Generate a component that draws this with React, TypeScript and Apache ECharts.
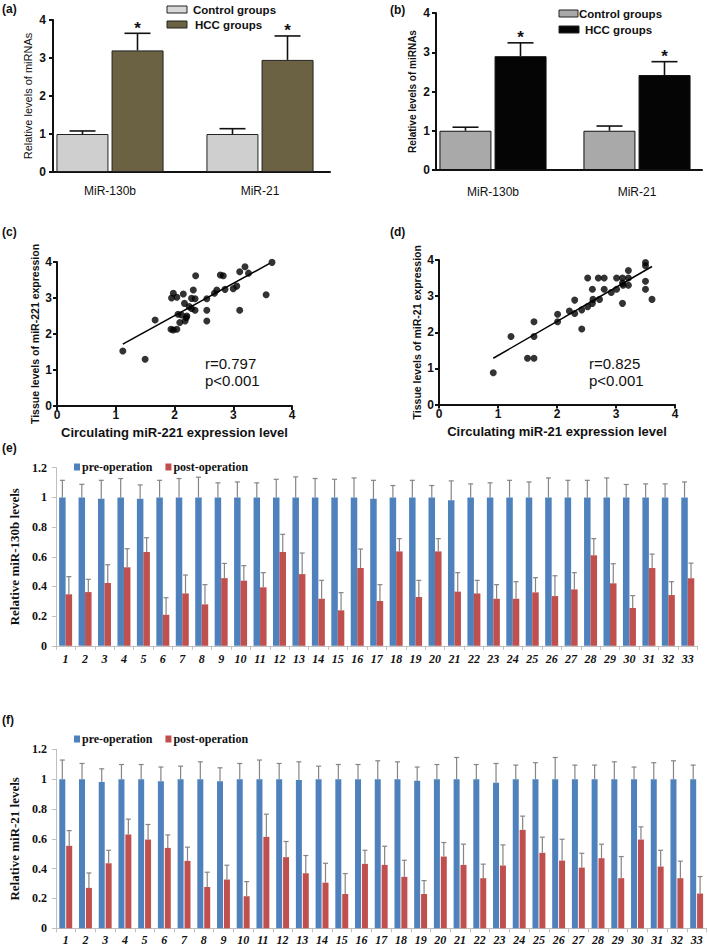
import React, { useEffect, useRef } from 'react';
import * as echarts from 'echarts';

// ---------- Panels (a) and (b) ----------
const groupCats = ['MiR-130b', 'MiR-21'];
const aControl = [1.0, 1.0];
const aControlErr = [1.08, 1.14];
const aHCC = [3.2, 2.95];
const aHCCErr = [3.65, 3.58];
const bControl = [1.0, 1.0];
const bControlErr = [1.09, 1.12];
const bHCC = [2.9, 2.42];
const bHCCErr = [3.24, 2.76];

// ---------- Panels (c) and (d) ----------
const cPoints: [number, number][] = [
  [1.12, 1.53], [1.5, 1.3], [1.67, 2.39], [1.95, 3.0], [1.98, 3.13], [2.04, 3.02],
  [1.94, 2.13], [1.98, 2.11], [2.04, 2.13], [2.09, 2.32], [2.12, 2.53], [2.06, 2.55],
  [2.15, 3.11], [2.17, 2.85], [2.18, 2.36], [2.21, 2.5], [2.2, 2.45], [2.25, 2.76],
  [2.29, 2.99], [2.29, 2.71], [2.32, 3.22], [2.35, 2.66], [2.35, 2.98], [2.36, 3.62],
  [2.55, 2.98], [2.55, 2.66], [2.55, 2.36], [2.68, 3.13], [2.72, 3.22], [2.78, 3.64],
  [2.83, 3.62], [2.86, 3.24], [3.0, 3.26], [3.06, 3.33], [3.11, 2.66], [3.11, 3.73],
  [3.2, 3.87], [3.26, 3.69], [3.56, 3.09], [3.66, 3.99],
];
const cFit: [number, number][] = [[1.12, 1.72], [3.62, 3.96]];
const dPoints: [number, number][] = [
  [0.92, 0.88], [1.22, 1.88], [1.5, 1.28], [1.61, 1.28], [1.61, 1.88], [1.61, 2.29],
  [2.01, 2.5], [2.01, 2.29], [2.21, 2.59], [2.3, 2.89], [2.3, 2.52], [2.42, 2.62],
  [2.42, 2.09], [2.52, 3.5], [2.52, 2.71], [2.6, 2.8], [2.6, 3.19], [2.61, 2.91],
  [2.7, 3.5], [2.72, 2.91], [2.8, 3.5], [2.8, 3.19], [2.92, 3.1], [3.01, 3.19],
  [3.01, 3.5], [3.11, 3.5], [3.11, 3.36], [3.11, 2.8], [3.12, 3.3], [3.21, 3.71],
  [3.21, 3.5], [3.21, 3.3], [3.5, 3.93], [3.5, 3.84], [3.5, 3.41], [3.5, 3.19],
  [3.61, 2.91],
];
const dFit: [number, number][] = [[0.92, 1.28], [3.61, 3.82]];

// ---------- Panels (e) and (f) ----------
const patients = [
  '1', '2', '3', '4', '5', '6', '7', '8', '9', '10', '11', '12', '13', '14', '15', '16', '17',
  '18', '19', '20', '21', '22', '23', '24', '25', '26', '27', '28', '29', '30', '31', '32', '33',
];
const ePre = [1.0, 1.0, 0.99, 1.0, 0.99, 1.0, 1.0, 1.0, 1.0, 1.0, 1.0, 1.0, 1.0, 1.0, 1.0, 1.0, 0.99,
  1.0, 1.0, 1.0, 0.98, 1.0, 1.0, 1.0, 1.0, 1.0, 1.0, 1.0, 1.0, 1.0, 1.0, 1.0, 1.0];
const ePreErr = [1.115, 1.088, 1.115, 1.127, 1.084, 1.115, 1.127, 1.136, 1.098, 1.104, 1.098, 1.122,
  1.138, 1.127, 1.122, 1.131, 1.115, 1.08, 1.115, 1.08, 1.111, 1.091, 1.098, 1.115, 1.104, 1.131,
  1.115, 1.115, 1.131, 1.087, 1.091, 1.091, 1.104];
const ePost = [0.347, 0.362, 0.423, 0.529, 0.632, 0.209, 0.353, 0.279, 0.456, 0.439, 0.394, 0.632,
  0.483, 0.317, 0.239, 0.524, 0.302, 0.636, 0.329, 0.636, 0.365, 0.353, 0.317, 0.317, 0.36, 0.335,
  0.38, 0.61, 0.421, 0.255, 0.524, 0.342, 0.455];
const ePostErr = [0.466, 0.448, 0.546, 0.654, 0.728, 0.324, 0.477, 0.412, 0.555, 0.54, 0.493, 0.751,
  0.625, 0.441, 0.358, 0.652, 0.412, 0.722, 0.441, 0.722, 0.493, 0.441, 0.412, 0.432, 0.459, 0.472,
  0.493, 0.722, 0.553, 0.338, 0.618, 0.432, 0.557];
const fPre = [1.0, 1.0, 0.98, 1.0, 1.0, 0.985, 1.0, 1.0, 0.985, 1.0, 1.0, 1.0, 0.995, 1.0, 1.0, 1.0,
  1.0, 1.0, 0.99, 1.0, 1.0, 1.0, 0.975, 1.0, 1.0, 1.0, 1.0, 1.0, 1.0, 1.0, 1.0, 1.0, 1.0];
const fPreErr = [1.128, 1.105, 1.069, 1.098, 1.098, 1.081, 1.087, 1.116, 1.076, 1.105, 1.128, 1.105,
  1.116, 1.087, 1.098, 1.098, 1.123, 1.116, 1.081, 1.098, 1.145, 1.098, 1.105, 1.094, 1.11, 1.145,
  1.094, 1.094, 1.116, 1.081, 1.11, 1.123, 1.094];
const fPost = [0.553, 0.271, 0.436, 0.629, 0.595, 0.539, 0.452, 0.277, 0.327, 0.215, 0.613, 0.477,
  0.369, 0.306, 0.23, 0.432, 0.425, 0.345, 0.23, 0.481, 0.425, 0.336, 0.421, 0.66, 0.506, 0.454,
  0.407, 0.47, 0.336, 0.595, 0.414, 0.336, 0.233];
const fPostErr = [0.655, 0.371, 0.523, 0.732, 0.696, 0.626, 0.544, 0.376, 0.423, 0.313, 0.765, 0.582,
  0.488, 0.436, 0.367, 0.523, 0.55, 0.456, 0.32, 0.575, 0.564, 0.43, 0.559, 0.752, 0.611, 0.597,
  0.503, 0.564, 0.481, 0.68, 0.523, 0.45, 0.347];

const SANS = 'Liberation Sans';
const SERIF = 'Liberation Serif';
const BLACK = '#111';
const BLUE = '#4f81bd';
const RED = '#c0504d';
const EXCEL_GREY = '#bfbfbf';

function errSeries(axis: number, vals: number[], tops: number[], offset: number, capHalf: number,
  color: string, width: number, star = false) {
  return {
    type: 'custom',
    xAxisIndex: axis,
    yAxisIndex: axis,
    silent: true,
    z: 5,
    data: vals.map((v, i) => [i, v, tops[i]]),
    renderItem: (_p: any, api: any) => {
      const p0 = api.coord([api.value(0), api.value(1)]);
      const p1 = api.coord([api.value(0), api.value(2)]);
      const x = p0[0] + offset;
      const ls = { stroke: color, lineWidth: width };
      const children: any[] = [
        { type: 'line', shape: { x1: x, y1: p0[1], x2: x, y2: p1[1] }, style: ls },
        { type: 'line', shape: { x1: x - capHalf, y1: p1[1], x2: x + capHalf, y2: p1[1] }, style: ls },
      ];
      if (star) {
        children.push({
          type: 'text', x, y: p1[1] - 5,
          style: {
            text: '*', fill: BLACK, font: `bold 17px "${SANS}"`,
            textAlign: 'center', textVerticalAlign: 'middle', align: 'center', verticalAlign: 'middle',
          },
        });
      }
      return { type: 'group', children };
    },
  };
}

function txt(x: number, y: number, text: string, font: string, align = 'left') {
  return {
    type: 'text', x, y,
    style: { text, font, fill: BLACK, textAlign: align, textVerticalAlign: 'middle', align, verticalAlign: 'middle' },
  };
}

function legendPatch(x: number, y: number, w: number, h: number, fill: string) {
  return { type: 'rect', shape: { x, y, width: w, height: h }, style: { fill, stroke: '#222', lineWidth: 1 } };
}

const gpYAxis = (grid: number, name: string, nameGap: number, nameFont: any, labelMargin: number) => ({
  gridIndex: grid, type: 'value', min: 0, max: 4, interval: 1,
  axisLine: { show: true, onZero: false, lineStyle: { color: BLACK, width: 2 } },
  axisTick: { show: true, length: 4, lineStyle: { color: BLACK, width: 2 } },
  axisLabel: { fontWeight: 'bold', fontSize: 12, color: BLACK, margin: labelMargin, fontFamily: SANS },
  splitLine: { show: false },
  name, nameLocation: 'middle', nameGap,
  nameTextStyle: { color: BLACK, fontFamily: SANS, ...nameFont },
});

const plainX = (grid: number) => ({
  gridIndex: grid, type: 'value', min: 0, max: 1,
  axisLine: { show: true, onZero: false, lineStyle: { color: BLACK, width: 2 } },
  axisTick: { show: false }, axisLabel: { show: false }, splitLine: { show: false },
});

const catX = (grid: number, margin: number) => ({
  gridIndex: grid, type: 'category', data: groupCats,
  axisLine: { show: false }, axisTick: { show: false },
  axisLabel: { fontSize: 12, color: BLACK, margin, fontFamily: SANS },
});

const hiddenY = (grid: number) => ({ gridIndex: grid, type: 'value', min: 0, max: 4, show: false });

const scatterX = (grid: number, name: string) => ({
  gridIndex: grid, type: 'value', min: 0, max: 4, interval: 1,
  axisLine: { show: true, onZero: false, lineStyle: { color: BLACK, width: 2 } },
  axisTick: { show: true, length: 4, lineStyle: { color: BLACK, width: 2 } },
  axisLabel: { fontWeight: 'bold', fontSize: 12, color: BLACK, margin: 3, fontFamily: SANS },
  splitLine: { show: false },
  name, nameLocation: 'middle', nameGap: 20,
  nameTextStyle: { color: BLACK, fontWeight: 'bold', fontSize: 13, fontFamily: SANS },
});

const excelX = (grid: number, margin: number) => ({
  gridIndex: grid, type: 'category', data: patients,
  axisLine: { show: true, lineStyle: { color: EXCEL_GREY, width: 1 } },
  axisTick: { show: true, length: 4, lineStyle: { color: EXCEL_GREY } },
  axisLabel: { fontSize: 12, fontStyle: 'italic', fontWeight: 'bold', color: BLACK, margin, fontFamily: SERIF, interval: 0 },
});

const excelY = (grid: number, name: string, nameGap: number) => ({
  gridIndex: grid, type: 'value', min: 0, max: 1.2, interval: 0.2,
  axisLine: { show: true, lineStyle: { color: EXCEL_GREY, width: 1 } },
  axisTick: { show: true, length: 4, lineStyle: { color: EXCEL_GREY } },
  axisLabel: { fontSize: 12, fontWeight: 'bold', color: BLACK, margin: 9, fontFamily: SERIF },
  splitLine: { show: false },
  name, nameLocation: 'middle', nameGap,
  nameTextStyle: { color: BLACK, fontWeight: 'bold', fontSize: 13, fontFamily: SERIF },
});

export default function App() {
  const ref = useRef<HTMLDivElement>(null);
  useEffect(() => {
    if (!ref.current) return;
    const chart = echarts.init(ref.current, undefined, { renderer: 'svg' });
    const option: any = {
      animation: false,
      backgroundColor: '#ffffff',
      textStyle: { fontFamily: SANS },
      grid: [
        { left: 53, top: 20, width: 277, height: 152 },
        { left: 35, top: 20, width: 300, height: 152 },
        { left: 436, top: 13, width: 266, height: 157 },
        { left: 421, top: 13, width: 296, height: 157 },
        { left: 57, top: 262, width: 235, height: 144 },
        { left: 439, top: 260, width: 236, height: 144.5 },
        { left: 47.4, top: 467.7, width: 650.1, height: 178.1 },
        { left: 43.2, top: 749.3, width: 663.3, height: 179 },
      ],
      xAxis: [
        plainX(0), catX(1, 13), plainX(2), catX(3, 16),
        scatterX(4, 'Circulating miR-221 expression level'),
        scatterX(5, 'Circulating miR-21 expression level'),
        excelX(6, 7), excelX(7, 6),
      ],
      yAxis: [
        gpYAxis(0, 'Relative levels of miRNAs', 19.5, { fontSize: 11 }, 7),
        hiddenY(1),
        gpYAxis(2, 'Relative levels of miRNAs', 19, { fontSize: 10, fontWeight: 'bold' }, 6),
        hiddenY(3),
        gpYAxis(4, 'Tissue levels of miR-221 expression', 17, { fontSize: 10.5, fontWeight: 'bold' }, 5),
        gpYAxis(5, 'Tissue levels of miR-21 expression', 17, { fontSize: 10.5, fontWeight: 'bold' }, 5),
        excelY(6, 'Relative miR-130b levels', 26),
        excelY(7, 'Relative miR-21 levels', 24),
      ],
      legend: [
        {
          data: ['pre-operation', 'post-operation'], left: 74, top: 461, padding: 0,
          icon: 'rect', itemWidth: 6, itemHeight: 7, itemGap: 13,
          textStyle: { fontFamily: SERIF, fontWeight: 'bold', fontSize: 12, color: BLACK, padding: [0, 0, 0, -3] },
        },
        {
          data: ['pre-operation', 'post-operation'], left: 74, top: 733, padding: 0,
          icon: 'rect', itemWidth: 6, itemHeight: 7, itemGap: 13,
          textStyle: { fontFamily: SERIF, fontWeight: 'bold', fontSize: 12, color: BLACK, padding: [0, 0, 0, -3] },
        },
      ],
      series: [
        // (a)
        { type: 'bar', name: 'Control groups (a)', xAxisIndex: 1, yAxisIndex: 1, data: aControl, barWidth: 52, barGap: '6%',
          itemStyle: { color: '#cfcfcf', borderColor: '#222', borderWidth: 1 } },
        { type: 'bar', name: 'HCC groups (a)', xAxisIndex: 1, yAxisIndex: 1, data: aHCC, barWidth: 52, barGap: '6%',
          itemStyle: { color: '#6a6242', borderColor: '#222', borderWidth: 1 } },
        errSeries(1, aControl, aControlErr, -27.5, 13, BLACK, 1.6),
        errSeries(1, aHCC, aHCCErr, 27.5, 13, BLACK, 1.6, true),
        // (b)
        { type: 'bar', name: 'Control groups (b)', xAxisIndex: 3, yAxisIndex: 3, data: bControl, barWidth: 52, barGap: '6%',
          itemStyle: { color: '#a9a9a9', borderColor: '#111', borderWidth: 1 } },
        { type: 'bar', name: 'HCC groups (b)', xAxisIndex: 3, yAxisIndex: 3, data: bHCC, barWidth: 52, barGap: '6%',
          itemStyle: { color: '#050505', borderColor: '#111', borderWidth: 1 } },
        errSeries(3, bControl, bControlErr, -27.5, 13, BLACK, 1.6),
        errSeries(3, bHCC, bHCCErr, 27.5, 13, BLACK, 1.6, true),
        // (c)
        { type: 'scatter', xAxisIndex: 4, yAxisIndex: 4, data: cPoints, symbolSize: 7, itemStyle: { color: '#000' } },
        { type: 'line', xAxisIndex: 4, yAxisIndex: 4, data: cFit, symbol: 'none', lineStyle: { color: '#000', width: 1.5 } },
        // (d)
        { type: 'scatter', xAxisIndex: 5, yAxisIndex: 5, data: dPoints, symbolSize: 7, itemStyle: { color: '#000' } },
        { type: 'line', xAxisIndex: 5, yAxisIndex: 5, data: dFit, symbol: 'none', lineStyle: { color: '#000', width: 1.5 } },
        // (e)
        { type: 'bar', name: 'pre-operation', xAxisIndex: 6, yAxisIndex: 6, data: ePre, barWidth: 6.5, barGap: '0%', itemStyle: { color: BLUE } },
        { type: 'bar', name: 'post-operation', xAxisIndex: 6, yAxisIndex: 6, data: ePost, barWidth: 6.5, barGap: '0%', itemStyle: { color: RED } },
        errSeries(6, ePre, ePreErr, -3.25, 2.5, '#858585', 1.2),
        errSeries(6, ePost, ePostErr, 3.25, 2.5, '#858585', 1.2),
        // (f)
        { type: 'bar', name: 'pre-operation', xAxisIndex: 7, yAxisIndex: 7, data: fPre, barWidth: 6, barGap: '15%', itemStyle: { color: BLUE } },
        { type: 'bar', name: 'post-operation', xAxisIndex: 7, yAxisIndex: 7, data: fPost, barWidth: 6, barGap: '15%', itemStyle: { color: RED } },
        errSeries(7, fPre, fPreErr, -3.45, 2.5, '#858585', 1.2),
        errSeries(7, fPost, fPostErr, 3.45, 2.5, '#858585', 1.2),
      ],
      graphic: [
        txt(2, 9, '(a)', `bold 12px "${SANS}"`),
        txt(390, 10, '(b)', `bold 12px "${SANS}"`),
        txt(2, 232, '(c)', `bold 12px "${SANS}"`),
        txt(390, 232, '(d)', `bold 12px "${SANS}"`),
        txt(2, 448, '(e)', `bold 12px "${SANS}"`),
        txt(2, 720, '(f)', `bold 12px "${SANS}"`),
        legendPatch(167, 6, 20, 7, '#d8d8d8'),
        txt(193, 9.5, 'Control groups', `bold 11.5px "${SANS}"`),
        legendPatch(167, 21, 20, 7, '#6a6242'),
        txt(195, 24.5, 'HCC groups', `bold 11.5px "${SANS}"`),
        legendPatch(559, 10, 19, 7, '#a9a9a9'),
        txt(579, 13.5, 'Control groups', `bold 11.5px "${SANS}"`),
        legendPatch(559, 26, 20, 7, '#050505'),
        txt(585, 29.5, 'HCC groups', `bold 11.5px "${SANS}"`),
        txt(205, 363, 'r=0.797', `15px "${SANS}"`),
        txt(205, 380, 'p<0.001', `15px "${SANS}"`),
        txt(589, 363, 'r=0.825', `15px "${SANS}"`),
        txt(589, 380, 'p<0.001', `15px "${SANS}"`),
      ],
    };
    chart.setOption(option);
    return () => chart.dispose();
  }, []);
  return <div ref={ref} style={{ position: 'absolute', left: 0, top: 0, width: 709, height: 950 }} />;
}
